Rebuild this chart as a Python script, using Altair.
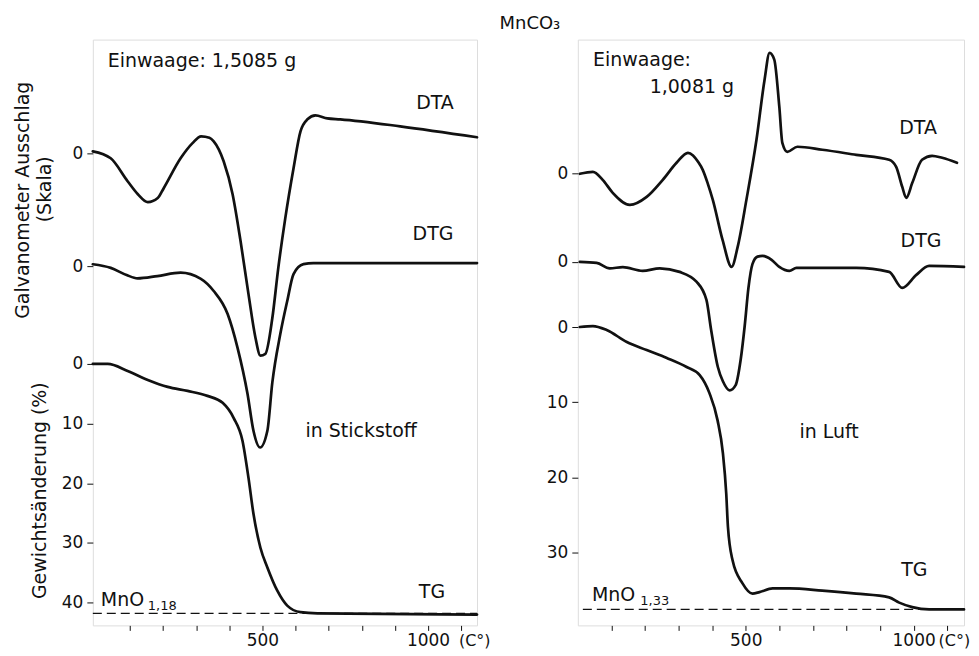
import altair as alt
import pandas as pd

FONT = "DejaVu Sans"

# ---------------- Left panel: in Stickstoff (Einwaage 1,5085 g) ----------------
N_DTA_T = [-12, 42, 93, 124, 154, 184, 202, 253, 289, 315, 340, 353, 383, 410, 434, 458, 479, 494, 509, 530, 548, 569, 594, 615, 636, 660, 696, 735, 916, 1148]
N_DTA_D = [0.33, -0.84, -4.68, -6.86, -8.19, -7.5, -5.85, -0.84, 1.7, 2.85, 2.6, 2.0, -1.34, -6.86, -14.7, -23.6, -30.9, -33.9, -33.6, -27.6, -19.2, -10.9, -2.5, 3.68, 5.69, 6.35, 5.85, 5.69, 4.52, 2.68]

N_DTG_T = [-12, 42, 90, 123, 183, 253, 313, 353, 395, 425, 455, 473, 493, 515, 530, 554, 575, 594, 624, 654, 735, 1148]
N_DTG_D = [0.3, -0.3, -1.5, -2.06, -1.67, -1.11, -2.1, -4.18, -8.03, -13.7, -21.4, -27.6, -30.4, -27.6, -19.5, -11.4, -5.85, -1.34, 0.33, 0.5, 0.5, 0.5]

N_TG_T = [-12, 33, 93, 154, 214, 274, 334, 380, 413, 440, 458, 473, 494, 515, 545, 575, 615, 666, 1148]
N_TG_V = [0, 0, 1.17, 2.68, 3.85, 4.52, 5.35, 6.52, 9.03, 12.9, 19.1, 25.1, 30.8, 34.1, 38.0, 40.5, 41.6, 41.8, 42.0]

N_DTA_ZERO = -35.3
N_DTG_ZERO = -16.4
N_MNO_LEVEL = 41.8

# ---------------- Right panel: in Luft (Einwaage 1,0081 g) ----------------
L_DTA_T = [6, 45, 74, 104, 155, 205, 253, 294, 328, 343, 358, 372, 387, 402, 431, 458, 476, 502, 532, 556, 571, 585, 600, 609, 624, 654, 728, 829, 927, 948, 966, 978, 996, 1025, 1055, 1085, 1129]
L_DTA_D = [0, 0.27, -0.8, -2.53, -4.13, -3.07, -0.8, 1.47, 2.8, 2.45, 1.6, 0.53, -1.3, -3.47, -8.8, -12.4, -9.73, -3.47, 4.53, 12.5, 16.1, 15.2, 8.93, 4.13, 2.93, 3.6, 3.2, 2.53, 1.87, 0.93, -1.73, -3.2, -1.2, 1.87, 2.4, 2.13, 1.47]

L_DTG_T = [6, 56, 95, 134, 193, 244, 303, 354, 383, 397, 417, 432, 452, 470, 485, 497, 508, 520, 535, 550, 577, 600, 630, 651, 719, 829, 927, 966, 1008, 1046, 1150]
L_DTG_D = [0, -0.13, -0.85, -0.7, -1.2, -0.85, -1.33, -2.67, -5.07, -9.07, -14.0, -15.9, -17.1, -16.4, -13.0, -8.5, -3.5, -0.3, 0.7, 0.8, 0.27, -0.67, -1.2, -0.8, -0.8, -0.8, -1.33, -3.47, -1.73, -0.53, -0.67]

L_TG_T = [6, 45, 86, 146, 205, 265, 324, 363, 392, 416, 432, 442, 447, 461, 490, 520, 541, 580, 630, 728, 829, 927, 957, 996, 1046, 1150]
L_TG_V = [0, -0.13, 0.4, 2.0, 3.07, 4.13, 5.33, 6.4, 8.8, 12.4, 16.8, 22.2, 26.6, 31.1, 34.1, 35.5, 35.3, 34.8, 34.8, 35.1, 35.5, 36.0, 36.7, 37.3, 37.6, 37.6]

L_DTA_ZERO = -20.4
L_DTG_ZERO = -8.67
L_MNO_LEVEL = 37.6

X_TICKS = [100, 200, 300, 400, 500, 600, 700, 800, 900, 1000, 1100]
TG_TICKS_N = [0, 10, 20, 30, 40]
TG_TICKS_L = [0, 10, 20, 30]

PANEL_H = 587
INK = "#111"


def panel(dta_t, dta_d, dta0, dtg_t, dtg_d, dtg0, tg_t, tg_v, tg_ticks, mno_level, dash_from,
          xdom, ydom, width, texts_left, texts_center, sub_text, unit_dx, extra_layers):
    xs = alt.Scale(domain=xdom, nice=False, zero=False)
    ys = alt.Scale(domain=ydom, nice=False, zero=False, reverse=True)
    xaxis = alt.Axis(values=X_TICKS, title=None, grid=False, domain=False,
                     labelExpr="datum.value == 500 ? '500' : datum.value == 1000 ? '1000' : ''",
                     tickSize=5, tickColor=INK, tickWidth=1,
                     labelFont=FONT, labelFontSize=17, labelColor=INK,
                     labelPadding=2, labelOverlap=False, labelFlush=False)
    yaxis = alt.Axis(values=[dta0, dtg0] + tg_ticks, title=None, grid=False, domain=False,
                     labelExpr="datum.value < -1 ? '0' : datum.label",
                     tickSize=6, tickColor=INK, tickWidth=1,
                     labelFont=FONT, labelFontSize=17, labelColor=INK,
                     labelPadding=4, labelOverlap=False, labelFlush=False)
    X = alt.X("T:Q", scale=xs, axis=xaxis)
    Y = alt.Y("v:Q", scale=ys, axis=yaxis)

    df = pd.concat([
        pd.DataFrame({"T": dta_t, "v": [dta0 - d for d in dta_d], "curve": "DTA"}),
        pd.DataFrame({"T": dtg_t, "v": [dtg0 - d for d in dtg_d], "curve": "DTG"}),
        pd.DataFrame({"T": tg_t, "v": tg_v, "curve": "TG"}),
    ], ignore_index=True)

    lines = alt.Chart(df).mark_line(interpolate="monotone", strokeWidth=2.7, color=INK,
                                    strokeCap="round", strokeJoin="round").encode(
        x=X, y=Y, detail="curve:N", order=alt.Order("T:Q"))

    dash = alt.Chart(pd.DataFrame({"v": [mno_level], "T": [dash_from], "T2": [xdom[1]]})).mark_rule(
        strokeDash=[9, 5], strokeWidth=1.3, color=INK).encode(x=X, x2="T2:Q", y=Y)

    tl = alt.Chart(pd.DataFrame(texts_left, columns=["t", "T", "v"])).mark_text(
        align="left", baseline="middle", font=FONT, fontSize=19, color=INK).encode(
        x=X, y=Y, text="t:N")
    tc = alt.Chart(pd.DataFrame(texts_center, columns=["t", "T", "v"])).mark_text(
        align="center", baseline="middle", font=FONT, fontSize=19, color=INK).encode(
        x=X, y=Y, text="t:N")
    ts = alt.Chart(pd.DataFrame(sub_text, columns=["t", "T", "v"])).mark_text(
        align="left", baseline="middle", font=FONT, fontSize=13, color=INK).encode(
        x=X, y=Y, text="t:N")

    unit = alt.Chart(pd.DataFrame({"T": [1000], "t": ["(C°)"]})).mark_text(
        align="left", baseline="top", font=FONT, fontSize=16, color=INK, dx=unit_dx).encode(
        x=X, y=alt.value(PANEL_H + 8), text="t:N")

    return alt.layer(*extra_layers, lines, dash, tl, tc, ts, unit).properties(
        width=width, height=PANEL_H)


def free_text(label, px, py, size, angle=0):
    return alt.Chart(pd.DataFrame({"t": [label]})).mark_text(
        align="center", baseline="middle", font=FONT, fontSize=size, color=INK,
        angle=angle).encode(x=alt.value(px), y=alt.value(py), text="t:N")


# tiny white anchor fixing the top-left corner of the drawing
anchor = alt.Chart(pd.DataFrame({"a": [0]})).mark_rect(color="white", opacity=1).encode(
    x=alt.value(-84), x2=alt.value(-83), y=alt.value(-30), y2=alt.value(-29))

left_extra = [
    anchor,
    free_text("Galvanometer Ausschlag", -70, 161, 19, 270),
    free_text("(Skala)", -48, 150, 19, 270),
    free_text("Gewichtsänderung (%)", -53, 452, 19, 270),
    free_text("MnCO₃", 438, -16, 18),
]

left = panel(
    N_DTA_T, N_DTA_D, N_DTA_ZERO, N_DTG_T, N_DTG_D, N_DTG_ZERO, N_TG_T, N_TG_V,
    TG_TICKS_N, N_MNO_LEVEL, -12, [-12, 1148], [-54.35, 43.81], 385,
    [("Einwaage: 1,5085 g", 33, -50.8), ("in Stickstoff", 630, 11.2), ("MnO", 12, 39.6)],
    [("DTA", 1021, -43.8), ("DTG", 1015, -21.7), ("TG", 1012, 38.3)],
    [("1,18", 154, 40.5)],
    31,
    left_extra,
)

right = panel(
    L_DTA_T, L_DTA_D, L_DTA_ZERO, L_DTG_T, L_DTG_D, L_DTG_ZERO, L_TG_T, L_TG_V,
    TG_TICKS_L, L_MNO_LEVEL, 15, [0, 1150], [-38.27, 39.73], 387,
    [("Einwaage:", 45, -35.6), ("1,0081 g", 214, -31.9), ("in Luft", 660, 14.0), ("MnO", 42, 35.7)],
    [("DTA", 1013, -26.5), ("DTG", 1022, -11.5), ("TG", 1002, 32.4)],
    [("1,33", 186, 36.5)],
    25,
    [],
)

chart = alt.hconcat(left, right, spacing=101, bounds="flush").properties(
    padding={"left": 0, "top": 0, "right": 0, "bottom": 0}
).configure_view(stroke="#222", strokeWidth=1).configure(background="white")

chart.save("out.html", embed_options={"renderer": "svg", "actions": False})
